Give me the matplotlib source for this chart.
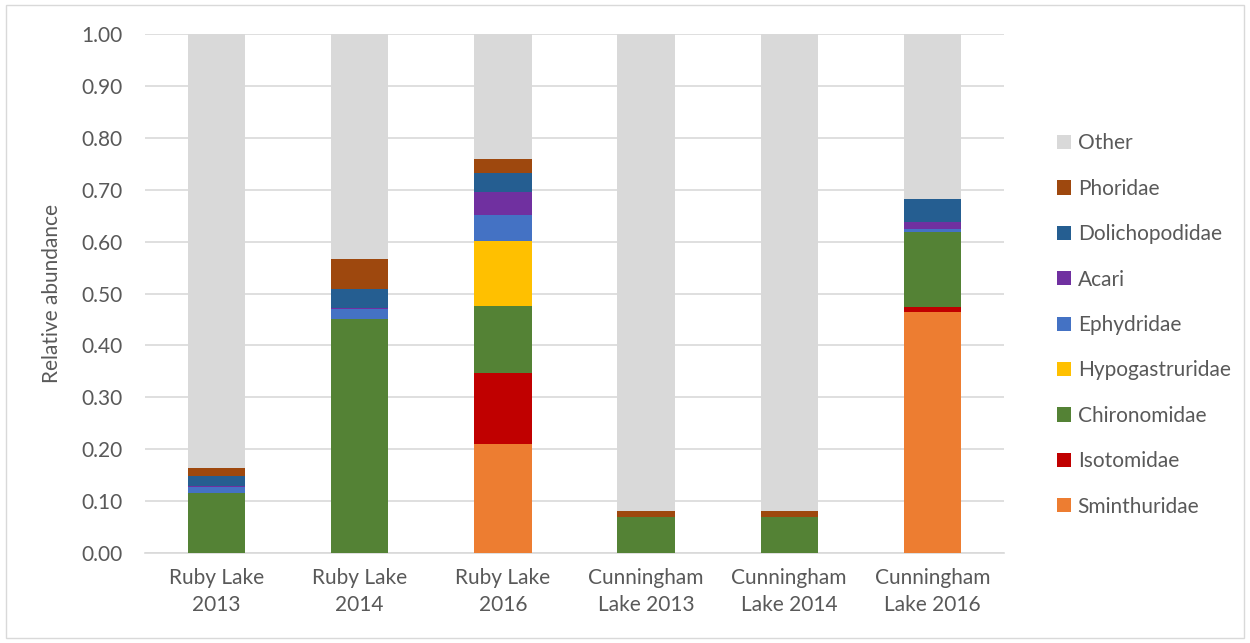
import numpy as np
import matplotlib.pyplot as plt
from matplotlib.patches import Patch, Rectangle

sites = ['Ruby Lake\n2013', 'Ruby Lake\n2014', 'Ruby Lake\n2016',
         'Cunningham\nLake 2013', 'Cunningham\nLake 2014', 'Cunningham\nLake 2016']

# stacked from bottom to top
taxa = ['Sminthuridae', 'Isotomidae', 'Chironomidae', 'Hypogastruridae',
        'Ephydridae', 'Acari', 'Dolichopodidae', 'Phoridae', 'Other']

sminthuridae = [0.000, 0.000, 0.210, 0.000, 0.000, 0.465]
isotomidae = [0.000, 0.000, 0.136, 0.000, 0.000, 0.010]
chironomidae = [0.115, 0.450, 0.130, 0.070, 0.070, 0.144]
hypogastruridae = [0.000, 0.000, 0.125, 0.000, 0.000, 0.000]
ephydridae = [0.012, 0.020, 0.050, 0.000, 0.000, 0.005]
acari = [0.003, 0.002, 0.045, 0.000, 0.000, 0.013]
dolichopodidae = [0.019, 0.036, 0.036, 0.000, 0.000, 0.045]
phoridae = [0.015, 0.058, 0.027, 0.010, 0.010, 0.000]
other = [0.836, 0.434, 0.241, 0.920, 0.920, 0.318]

colors = ['#ED7D31', '#C00000', '#548235', '#FFC000', '#4472C4',
          '#7030A0', '#255E91', '#9E480E', '#D9D9D9']

series = [sminthuridae, isotomidae, chironomidae, hypogastruridae,
          ephydridae, acari, dolichopodidae, phoridae, other]

plt.rcParams['font.family'] = ['Lato', 'DejaVu Sans']
FS = 15
TXT = '#595959'

fig = plt.figure(figsize=(12.5, 6.43), dpi=100)
ax = fig.add_axes([0.116, 0.14, 0.6872, 0.807])

x = np.arange(len(sites))
bottom = np.zeros(len(sites))
for name, vals, col in zip(taxa, series, colors):
    vals = np.array(vals)
    ax.bar(x, vals, bottom=bottom, width=0.4, color=col, label=name, zorder=3)
    bottom += vals

ax.set_xlim(-0.5, len(sites) - 0.5)
ax.set_ylim(0, 1.0)
ticks = np.arange(0, 1.01, 0.1)
ax.set_yticks(ticks)
ax.set_yticklabels([f'{v:.2f}' for v in ticks])
ax.set_xticks(x)
ax.set_xticklabels(sites, linespacing=1.4)
ax.tick_params(axis='both', length=0, labelsize=FS, colors=TXT)
ax.tick_params(axis='y', pad=16)
ax.tick_params(axis='x', pad=11)
ax.grid(axis='y', color='#D9D9D9', linewidth=1.2, zorder=0)
for s in ['top', 'right', 'left']:
    ax.spines[s].set_visible(False)
ax.spines['bottom'].set_color('#D9D9D9')
ax.spines['bottom'].set_linewidth(1.2)
ax.set_ylabel('Relative abundance', fontsize=FS, color=TXT, labelpad=14)

handles = [Patch(facecolor=c, label=t) for t, c in zip(taxa, colors)][::-1]
leg = fig.legend(handles=handles, loc='center left', bbox_to_anchor=(0.8376, 0.4946),
                 frameon=False, fontsize=FS, labelspacing=1.22, borderpad=0,
                 handlelength=0.67, handleheight=0.67, handletextpad=0.3)
for t in leg.get_texts():
    t.set_color(TXT)

fig.patches.append(Rectangle((6 / 1250, 5 / 643), 1 - 12 / 1250, 1 - 10 / 643,
                             transform=fig.transFigure, fill=False,
                             edgecolor='#D9D9D9', linewidth=1))

fig.savefig('out.png', dpi=100, facecolor='white')
